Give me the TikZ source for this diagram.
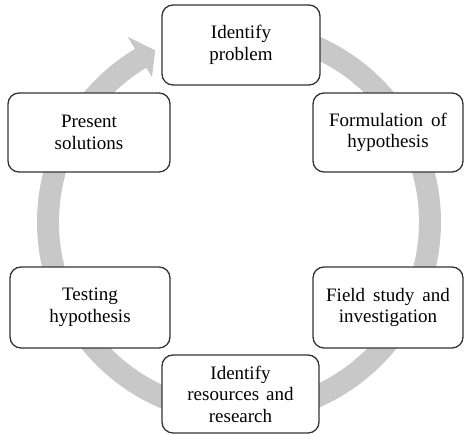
\documentclass[tikz,border=0pt]{standalone}
\usepackage{fontspec}
\setmainfont{Liberation Serif}
\usetikzlibrary{calc}
\definecolor{ringgray}{HTML}{C8C8C8}
\definecolor{boxline}{HTML}{333333}
\begin{document}
\begin{tikzpicture}[x=1pt,y=1pt,
  stepbox/.style={draw=boxline, line width=1.3pt, fill=white, rounded corners=11pt,
    align=center, inner sep=0pt, font=\fontsize{19}{21.5}\selectfont},
]
\useasboundingbox (0,0) rectangle (464,435);
% ring arrow
\begin{scope}[shift={(239,213)}]
\fill[ringgray] (90:202) arc[start angle=90,end angle=-239,radius=202]
  -- (-239:216) -- (-244:191) -- (-239:169) -- (-239:180)
  arc[start angle=-239,end angle=90,radius=180] -- cycle;
\end{scope}
% boxes
\node[stepbox, minimum width=158, minimum height=80] (n1) at (241,390) {Identify\\problem};
\node[stepbox, minimum width=150, minimum height=79] (n2) at (388,302.5) {Formulation\hspace{8pt}of\\hypothesis};
\node[stepbox, minimum width=150, minimum height=81] (n3) at (388,127.5) {Field\hspace{8pt}study\hspace{8pt}and\\investigation};
\node[stepbox, minimum width=157, minimum height=78] (n4) at (240.5,41) {Identify\\resources\hspace{7pt}and\\research};
\node[stepbox, minimum width=160, minimum height=81] (n5) at (90,127.5) {Testing\\hypothesis};
\node[stepbox, minimum width=162, minimum height=79] (n6) at (89,302.5) {Present\\solutions};
\end{tikzpicture}
\end{document}
